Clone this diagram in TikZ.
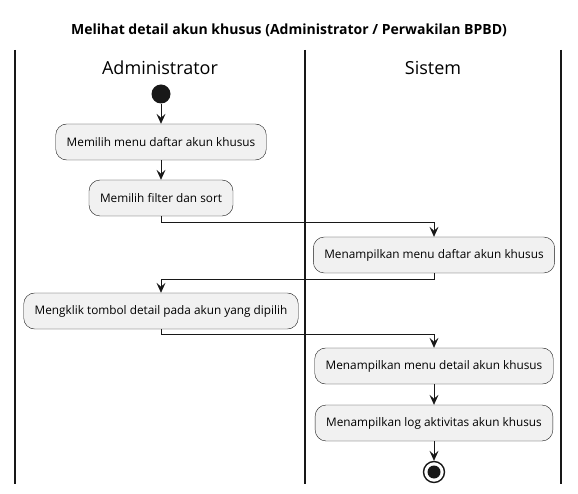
\documentclass[tikz,border=0pt]{standalone}
\usepackage{fontspec}
\setmainfont{Open Sans}
\usepackage{xcolor}
\usetikzlibrary{arrows.meta,positioning,calc}
\definecolor{umlline}{HTML}{181818}
\definecolor{umlfill}{HTML}{F1F1F1}
\tikzset{
  action/.style={draw=umlline, fill=umlfill, rounded corners=11pt, inner xsep=11pt,
  minimum height=36pt, text centered, font=\fontsize{11.8}{13}\selectfont},
  startdot/.style={circle, fill=umlline, minimum size=19pt, inner sep=0pt},
  enddot/.style={circle, draw=umlline, line width=1.4pt, fill=white, minimum size=21pt,
  inner sep=0pt},
  flow/.style={draw=umlline, line width=0.8pt, -{Stealth[length=10pt,width=9pt,inset=4pt]}},
  lane/.style={draw=umlline, line width=1.2pt},
  lanetitle/.style={font=\fontsize{18}{20}\selectfont}
}

\begin{document}
\begin{tikzpicture}[x=1pt,y=-1pt]
\useasboundingbox (0,0) rectangle (578,494);
% judul dan swimlane
\node[font=\bfseries\fontsize{14}{16}\selectfont] (judul) at (289,30)
	{Melihat detail akun khusus (Administrator / Perwakilan BPBD)};
\draw[lane] (15,50) -- (15,484);
\draw[lane] (305,50) -- (305,484);
\draw[lane] (561,50) -- (561,484);
\node[lanetitle] (admin) at (160,68) {Administrator};
\node[lanetitle] (sistem) at (433,68) {Sistem};

% aktivitas
\node[startdot] (mulai) at (161,94) {};
\node[action] (menu) at (161,142) {Memilih menu daftar akun khusus};
\node[action] (filter) at (161,198) {Memilih filter dan sort};
\node[action] (tampil) at (434,255) {Menampilkan menu daftar akun khusus};
\node[action] (klik) at (161,311) {Mengklik tombol detail pada akun yang dipilih};
\node[action] (detail) at (434,366) {Menampilkan menu detail akun khusus};
\node[action] (log) at (434,423) {Menampilkan log aktivitas akun khusus};
\node[enddot] (selesai) at (434,472) {};
\node[circle, fill=umlline, minimum size=13pt, inner sep=0pt] at (selesai) {};

% alur
\draw[flow] (mulai) -- (menu);
\draw[flow] (menu) -- (filter);
\draw[flow] (filter.south) -- ++(0,6) -| (tampil.north);
\draw[flow] (tampil.south) -- ++(0,6) -| (klik.north);
\draw[flow] (klik.south) -- ++(0,5) -| (detail.north);
\draw[flow] (detail) -- (log);
\draw[flow] (log) -- (selesai);
\end{tikzpicture}
\end{document}
